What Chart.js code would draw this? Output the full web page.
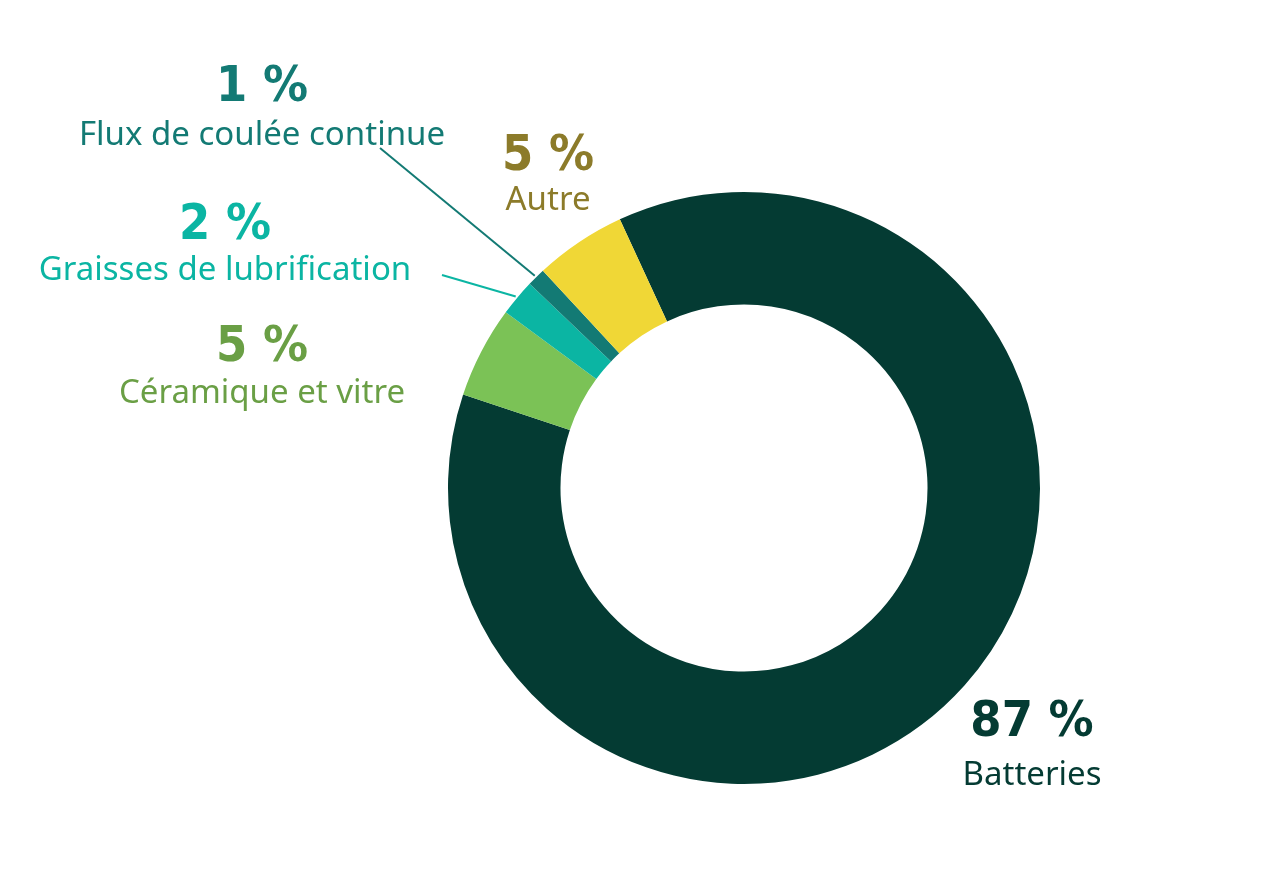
<!DOCTYPE html>
<html>
<head>
<meta charset="utf-8">
<script src="https://cdn.jsdelivr.net/npm/chart.js@4"></script>
<style>
  html, body { margin: 0; padding: 0; background: #fff; }
  #wrap { width: 1262px; height: 883px; }
</style>
</head>
<body>
<div id="wrap"><canvas id="donut"></canvas></div>
<script>
// données
const categories = ['Batteries', 'Céramique et vitre', 'Graisses de lubrification', 'Flux de coulée continue', 'Autre'];
const shares = [87, 5, 2, 1, 5];
const pctLabels = ['87 %', '5 %', '2 %', '1 %', '5 %'];
const sliceColors = ['#043b33', '#7bc256', '#0bb5a3', '#137a74', '#f0d736'];
const labelColors = ['#043b33', '#6a9f45', '#0bb5a3', '#137a74', '#8c7b2a'];

// position des étiquettes (centre x, ligne % y, ligne texte y, largeur max)
const labelPos = [
    { x: 1032, y1: 718, y2: 773, w: 155 },
    { x: 262, y1: 343, y2: 391, w: 320 },
    { x: 225, y1: 221, y2: 268, w: 412 },
    { x: 262, y1: 83, y2: 133, w: 413 },
    { x: 548, y1: 152, y2: 198, w: 95 }
];
// lignes de rappel : point de départ près du texte
const leaders = { 2: [442, 275], 3: [380, 148] };

const labelPlugin = {
    id: 'labels',
    afterDraw(chart) {
        const ctx = chart.ctx;
        const arcs = chart.getDatasetMeta(0).data;
        ctx.save();
        ctx.textAlign = 'center';
        ctx.textBaseline = 'alphabetic';
        categories.forEach((cat, i) => {
            const p = labelPos[i];
            ctx.fillStyle = labelColors[i];
            ctx.font = 'bold 50px "Liberation Sans Narrow", "DejaVu Sans Condensed", sans-serif';
            ctx.fillText(pctLabels[i], p.x, p.y1 + 18);
            ctx.font = '33px "Noto Sans", sans-serif';
            ctx.fillText(cat, p.x, p.y2 + 12, p.w);
            if (leaders[i]) {
                const a = arcs[i];
                const mid = (a.startAngle + a.endAngle) / 2;
                const ex = a.x + Math.cos(mid) * (a.outerRadius + 2);
                const ey = a.y + Math.sin(mid) * (a.outerRadius + 2);
                ctx.strokeStyle = labelColors[i];
                ctx.lineWidth = 2;
                ctx.beginPath();
                ctx.moveTo(leaders[i][0], leaders[i][1]);
                ctx.lineTo(ex, ey);
                ctx.stroke();
            }
        });
        ctx.restore();
    }
};

new Chart(document.getElementById('donut').getContext('2d'), {
    type: 'doughnut',
    data: {
        labels: categories,
        datasets: [{
            data: shares,
            backgroundColor: sliceColors,
            borderWidth: 0
        }]
    },
    options: {
        animation: false,
        responsive: true,
        maintainAspectRatio: false,
        cutout: '62%',
        rotation: -24.8,
        layout: { padding: { left: 448, right: 222, top: 192, bottom: 99 } },
        plugins: { legend: { display: false }, tooltip: { enabled: false } }
    },
    plugins: [labelPlugin]
});
</script>
</body>
</html>
